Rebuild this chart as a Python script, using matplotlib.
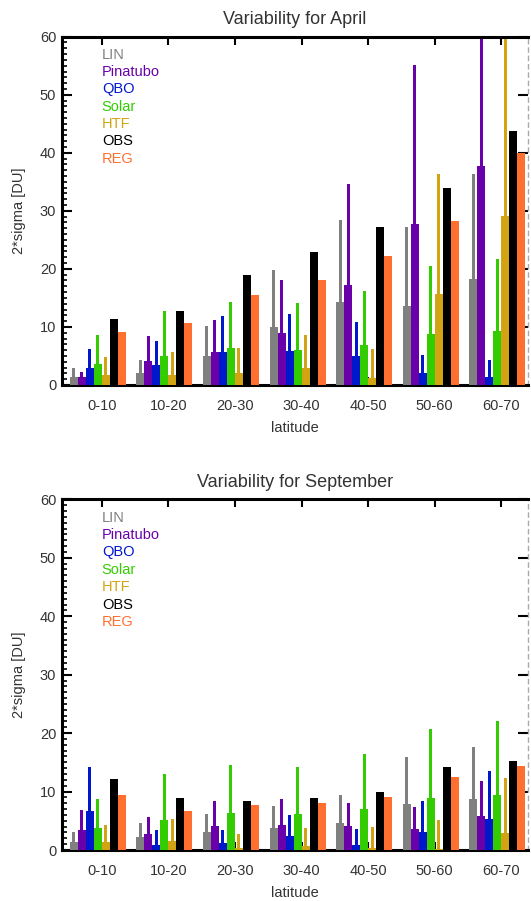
import numpy as np
import matplotlib
matplotlib.use('Agg')
import matplotlib.pyplot as plt
from matplotlib.ticker import MultipleLocator

plt.rcParams['font.family'] = ['Liberation Sans', 'DejaVu Sans']

lats = ['0-10', '10-20', '20-30', '30-40', '40-50', '50-60', '60-70']
names = ['LIN', 'Pinatubo', 'QBO', 'Solar', 'HTF', 'OBS', 'REG']
colors = ['#808080', '#6a00aa', '#0018cc', '#33cc00', '#d2a414', '#000000', '#ff7030']

# April: bar values (wide bars) and upper ends of thin bars (None = no thin bar)
apr_lin = [1.4, 2.1, 5.0, 10.0, 14.3, 13.6, 18.2]
apr_pin = [1.3, 4.1, 5.6, 8.9, 17.2, 27.7, 37.8]
apr_qbo = [3.0, 3.5, 5.7, 5.8, 5.0, 2.1, 1.4]
apr_sol = [3.7, 5.0, 6.4, 6.0, 6.9, 8.8, 9.3]
apr_htf = [1.8, 1.7, 2.1, 2.9, 1.2, 15.6, 29.1]
apr_obs = [11.4, 12.7, 18.9, 22.9, 27.2, 34.0, 43.8]
apr_reg = [9.1, 10.7, 15.5, 18.1, 22.2, 28.2, 39.9]

apr_lin_hi = [2.9, 4.3, 10.2, 19.8, 28.4, 27.2, 36.4]
apr_pin_hi = [2.3, 8.5, 11.2, 18.1, 34.6, 55.2, 63.0]
apr_qbo_hi = [6.2, 7.6, 11.9, 12.2, 10.8, 5.2, 4.3]
apr_sol_hi = [8.6, 12.7, 14.3, 14.1, 16.2, 20.5, 21.7]
apr_htf_hi = [4.8, 5.6, 6.4, 8.6, 6.2, 36.3, 63.0]

# September
sep_lin = [1.4, 2.3, 3.1, 3.8, 4.6, 7.9, 8.7]
sep_pin = [3.4, 2.7, 4.1, 4.3, 4.1, 3.6, 5.8]
sep_qbo = [6.7, 0.9, 1.2, 2.4, 0.9, 3.1, 5.3]
sep_sol = [3.7, 5.1, 6.3, 6.2, 7.0, 8.9, 9.4]
sep_htf = [1.4, 1.5, 0.3, 0.7, 0.3, 0.2, 2.9]
sep_obs = [12.2, 8.9, 8.4, 8.9, 9.9, 14.2, 15.3]
sep_reg = [9.4, 6.7, 7.7, 8.1, 9.1, 12.5, 14.4]

sep_lin_hi = [3.0, 4.6, 6.2, 7.5, 9.4, 15.9, 17.7]
sep_pin_hi = [6.9, 5.7, 8.4, 8.7, 8.1, 7.4, 11.8]
sep_qbo_hi = [14.2, 3.4, 3.4, 6.0, 3.6, 8.4, 13.5]
sep_sol_hi = [8.7, 13.0, 14.6, 14.2, 16.5, 20.7, 22.1]
sep_htf_hi = [4.3, 5.3, 2.7, 3.8, 3.9, 5.1, 12.3]

txt = '#333333'


def panel(ax, vals, his, title):
    x = np.arange(len(lats))
    w = 0.12
    for k in range(len(names)):
        xc = x - 0.42 + w * k
        if his[k] is not None:
            ax.bar(xc, his[k], width=0.045, color=colors[k], zorder=2)
        ax.bar(xc, vals[k], width=w, color=colors[k], zorder=3)

    ax.set_xlim(-0.6, 6.4)
    ax.set_ylim(0, 60)
    ax.set_xticks(x)
    ax.set_xticklabels(lats)
    ax.yaxis.set_major_locator(MultipleLocator(10))
    ax.yaxis.set_minor_locator(MultipleLocator(1))
    ax.tick_params(axis='both', which='major', direction='in', colors='black',
                   labelcolor=txt, labelsize=10.5, width=1.5)
    ax.tick_params(axis='x', which='major', top=True, bottom=True, length=6, pad=10)
    ax.tick_params(axis='y', which='major', left=True, right=True, length=7, pad=4)
    ax.tick_params(axis='y', which='minor', left=True, right=False, direction='in',
                   length=3.5, width=1.2)
    ax.tick_params(axis='x', which='minor', bottom=False, top=False)
    for lb in ax.get_yticklabels():
        lb.set_va('center_baseline')

    for s in ['left', 'top', 'bottom']:
        ax.spines[s].set_linewidth(2.2)
        ax.spines[s].set_color('black')
    ax.spines['right'].set_linestyle((0, (3, 3)))
    ax.spines['right'].set_color('#aaaaaa')
    ax.spines['right'].set_linewidth(1)

    ax.set_title(title, fontsize=13, color=txt, pad=9)
    ax.set_xlabel('latitude', fontsize=10.5, color=txt, labelpad=6)
    ax.set_ylabel('2*sigma [DU]', fontsize=10.5, color=txt, labelpad=10)

    for k, n in enumerate(names):
        ax.text(0.086, 0.948 - 0.0497 * k, n, transform=ax.transAxes,
                color=colors[k], fontsize=10.5, va='center', ha='left', zorder=5)


fig = plt.figure(figsize=(5.31, 9.01), dpi=100)
ax1 = fig.add_axes([0.1162, 0.5727, 0.8782, 0.3866])
ax2 = fig.add_axes([0.1162, 0.0566, 0.8782, 0.3892])

panel(ax1,
      [apr_lin, apr_pin, apr_qbo, apr_sol, apr_htf, apr_obs, apr_reg],
      [apr_lin_hi, apr_pin_hi, apr_qbo_hi, apr_sol_hi, apr_htf_hi, None, None],
      'Variability for April')
panel(ax2,
      [sep_lin, sep_pin, sep_qbo, sep_sol, sep_htf, sep_obs, sep_reg],
      [sep_lin_hi, sep_pin_hi, sep_qbo_hi, sep_sol_hi, sep_htf_hi, None, None],
      'Variability for September')

fig.savefig('out.png', dpi=100)
